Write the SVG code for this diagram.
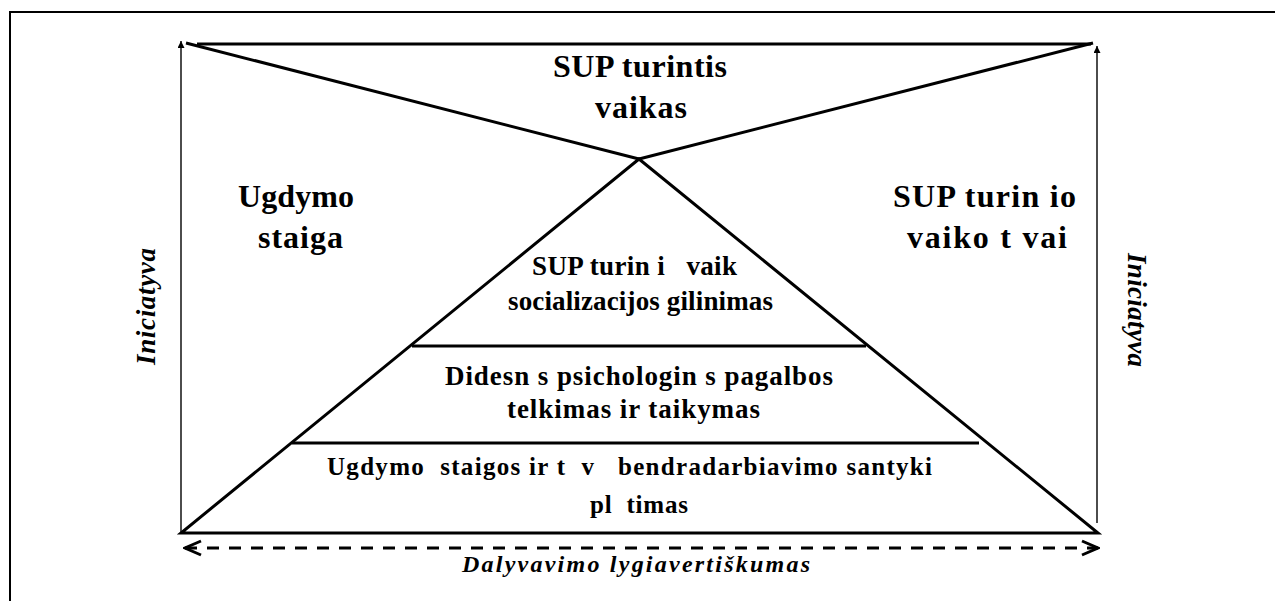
<svg xmlns="http://www.w3.org/2000/svg" width="1275" height="601" viewBox="0 0 1275 601">
  <style>
    .thick { stroke: #000; stroke-width: 3; fill: none; }
    .thin { stroke: #000; stroke-width: 1.4; fill: none; }
    .big { font-family: "Liberation Serif", "Times New Roman", serif; font-weight: bold; font-size: 32px; fill: #000; }
    .mid { font-family: "Liberation Serif", "Times New Roman", serif; font-weight: bold; font-size: 27px; fill: #000; }
    .small { font-family: "Liberation Serif", "Times New Roman", serif; font-weight: bold; font-size: 25px; fill: #000; }
    .ital { font-family: "Liberation Serif", "Times New Roman", serif; font-weight: bold; font-style: italic; fill: #000; }
  </style>
  <defs>
    <marker id="headUp" viewBox="0 0 8 8" refX="8" refY="4" markerWidth="8" markerHeight="7" markerUnits="userSpaceOnUse" orient="auto">
      <path d="M0,0 L8,4 L0,8 z" fill="#000"/>
    </marker>
    <marker id="chev" viewBox="-20 -10 22 20" refX="0" refY="0" markerWidth="22" markerHeight="20" markerUnits="userSpaceOnUse" orient="auto-start-reverse">
      <path d="M-16,-7 L0,0 L-16,7" fill="none" stroke="#000" stroke-width="3" stroke-dasharray="none"/>
    </marker>
  </defs>

  <rect width="1275" height="601" fill="#fff"/>
  <g id="frame">
    <rect x="10" y="12" width="1300" height="700" fill="none" stroke="#000" stroke-width="2"/>
  </g>

  <g id="child">
    <line class="thick" x1="197" y1="44" x2="1091" y2="44"/>
    <line class="thick" x1="186" y1="43" x2="639" y2="159"/>
    <line class="thick" x1="1093" y1="43" x2="639" y2="159"/>
    <text class="big" x="640" y="77" text-anchor="middle" textLength="174">SUP turintis</text>
    <text class="big" x="641" y="118" text-anchor="middle" textLength="92">vaikas</text>
  </g>

  <g id="pyramid">
    <polygon class="thick" points="639,159 181,533 1098,533"/>
    <line class="thick" x1="412" y1="346" x2="866" y2="346"/>
    <line class="thick" x1="292" y1="443" x2="979" y2="443"/>
  </g>

  <g id="level-top">
    <text class="mid" x="634.5" y="275" text-anchor="middle" textLength="205" xml:space="preserve">SUP turin i   vaik</text>
    <text class="mid" x="640.5" y="310" text-anchor="middle" textLength="265">socializacijos gilinimas</text>
  </g>
  <g id="level-middle">
    <text class="mid" x="639" y="385" text-anchor="middle" textLength="388" xml:space="preserve">Didesn s psichologin s pagalbos</text>
    <text class="mid" x="633.5" y="418" text-anchor="middle" textLength="253">telkimas ir taikymas</text>
  </g>
  <g id="level-bottom">
    <text class="small" x="629.5" y="475" text-anchor="middle" textLength="605" xml:space="preserve">Ugdymo  staigos ir t  v   bendradarbiavimo santyki</text>
    <text class="small" x="639" y="513" text-anchor="middle" textLength="98" xml:space="preserve">pl  timas</text>
  </g>

  <g id="school">
    <text class="big" x="296" y="207" text-anchor="middle" textLength="116">Ugdymo</text>
    <text class="big" x="300.5" y="248" text-anchor="middle" textLength="85">staiga</text>
  </g>
  <g id="parents">
    <text class="big" x="984.5" y="207" text-anchor="middle" textLength="183" xml:space="preserve">SUP turin io</text>
    <text class="big" x="987" y="248" text-anchor="middle" textLength="160" xml:space="preserve">vaiko t vai</text>
  </g>

  <g id="connectors">
    <line class="thin" x1="181" y1="533" x2="181" y2="41" marker-end="url(#headUp)"/>
    <line class="thin" x1="1097" y1="523" x2="1097" y2="46" marker-end="url(#headUp)"/>
    <line x1="185" y1="548" x2="1098" y2="548" stroke="#000" stroke-width="3" stroke-dasharray="12,10" marker-start="url(#chev)" marker-end="url(#chev)"/>
  </g>

  <g id="labels">
    <text class="ital" font-size="27" transform="translate(155,306.5) rotate(-90)" text-anchor="middle" textLength="117">Iniciatyva</text>
    <text class="ital" font-size="27" transform="translate(1128,310) rotate(90)" text-anchor="middle" textLength="114">Iniciatyva</text>
    <text class="ital" font-size="24" x="636" y="572" text-anchor="middle" textLength="348">Dalyvavimo lygiavertiškumas</text>
  </g>
</svg>
